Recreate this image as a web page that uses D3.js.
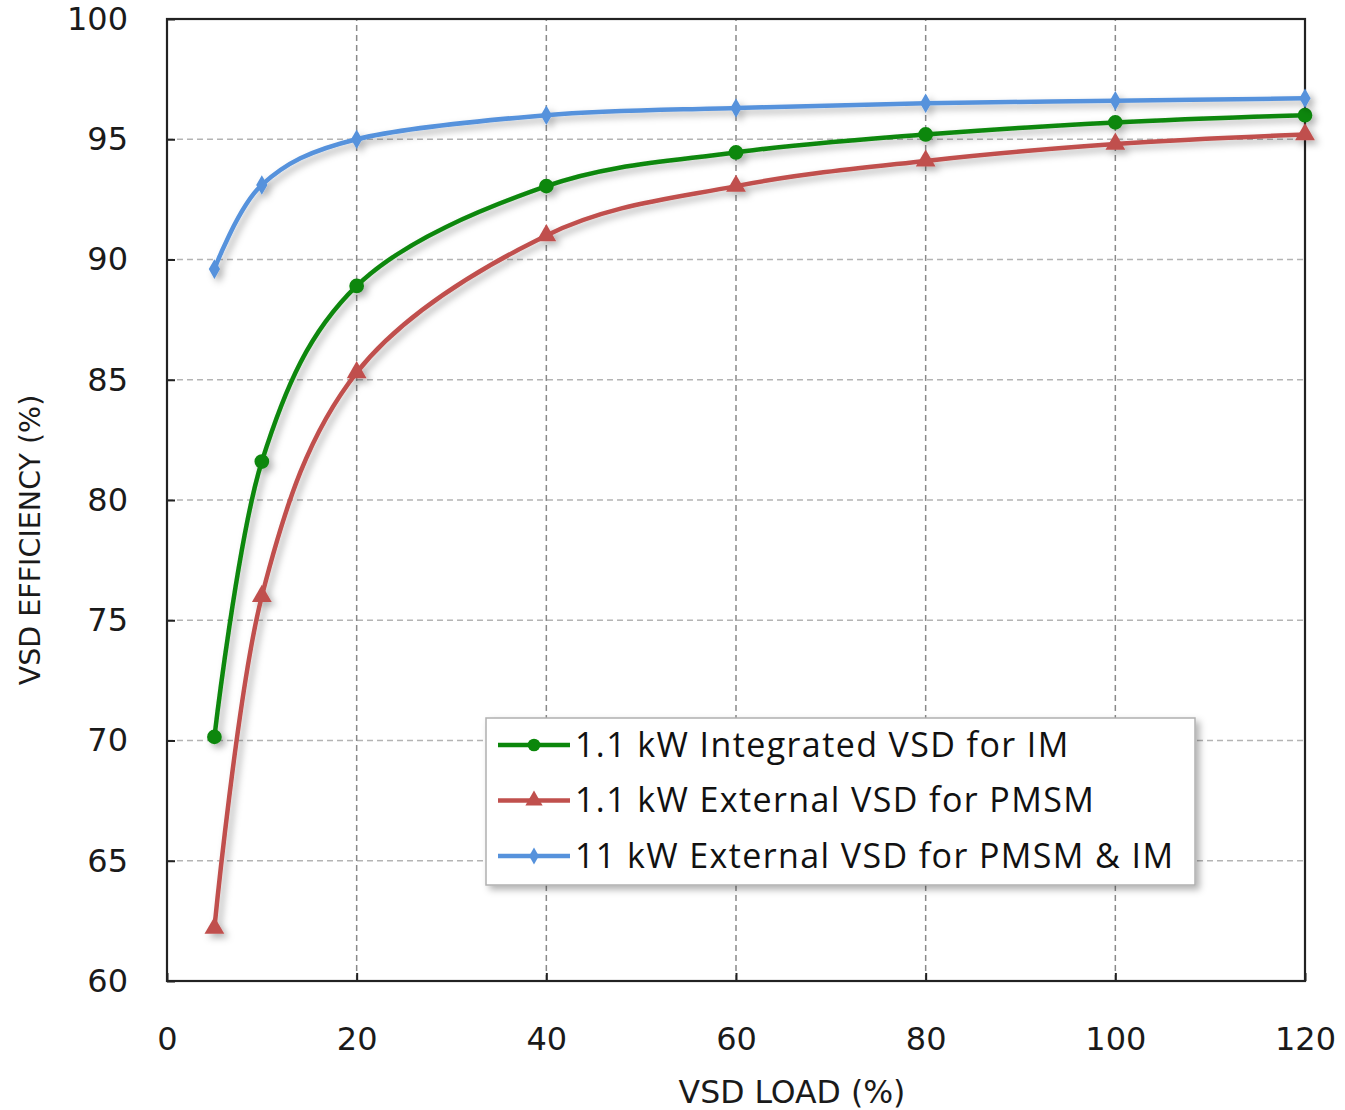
<!DOCTYPE html>
<html>
<head>
<meta charset="utf-8">
<script src="https://cdn.jsdelivr.net/npm/d3@7"></script>
<style>
  body { margin: 0; background: #fff; }
  svg { display: block; }
</style>
</head>
<body>
<div id="chart"></div>
<script>
const loads = [5, 10, 20, 40, 60, 80, 100, 120];
const integratedIM = [70.15, 81.6, 88.9, 93.05, 94.45, 95.2, 95.7, 96.0];
const externalPMSM = [62.2, 76.0, 85.3, 91.0, 93.05, 94.1, 94.8, 95.2];
const external11kW = [89.6, 93.1, 95.0, 96.0, 96.3, 96.5, 96.6, 96.7];
const seriesNames = [
  '1.1 kW Integrated VSD for IM',
  '1.1 kW External VSD for PMSM',
  '11 kW External VSD for PMSM & IM'
];
const xTicks = [0, 20, 40, 60, 80, 100, 120];
const yTicks = [60, 65, 70, 75, 80, 85, 90, 95, 100];

const width = 1345;
const height = 1110;
const margin = { top: 19, right: 40, bottom: 129, left: 167 };

const series = [
  { name: seriesNames[0], values: integratedIM, color: '#0b870b', symbol: d3.symbolCircle, size: 170 },
  { name: seriesNames[1], values: externalPMSM, color: '#c0504d', symbol: d3.symbolTriangle, size: 170 },
  { name: seriesNames[2], values: external11kW, color: '#5692dc', symbol: d3.symbolDiamond, size: 110 }
];

const svg = d3.select('#chart')
  .append('svg')
  .attr('width', width)
  .attr('height', height);

const defs = svg.append('defs');
const shadow = defs.append('filter')
  .attr('id', 'shadow')
  .attr('x', '-20%').attr('y', '-20%')
  .attr('width', '140%').attr('height', '140%');
shadow.append('feDropShadow')
  .attr('dx', 4).attr('dy', 4)
  .attr('stdDeviation', 3.5)
  .attr('flood-color', '#000')
  .attr('flood-opacity', 0.3);

const x = d3.scaleLinear()
  .domain([0, 120])
  .range([margin.left, width - margin.right]);

const y = d3.scaleLinear()
  .domain([60, 100])
  .range([height - margin.bottom, margin.top]);

const plotW = x(120) - x(0);
const plotH = y(60) - y(100);

// grid
svg.append('g')
  .selectAll('line')
  .data(yTicks.slice(1, -1))
  .join('line')
    .attr('x1', x(0)).attr('x2', x(120))
    .attr('y1', d => y(d)).attr('y2', d => y(d))
    .attr('stroke', '#b4b4b4')
    .attr('stroke-width', 1.5)
    .attr('stroke-dasharray', '6,4');

svg.append('g')
  .selectAll('line')
  .data(xTicks.slice(1, -1))
  .join('line')
    .attr('x1', d => x(d)).attr('x2', d => x(d))
    .attr('y1', y(60)).attr('y2', y(100))
    .attr('stroke', '#8a8a8a')
    .attr('stroke-width', 1.5)
    .attr('stroke-dasharray', '6,4');

// axes (inner ticks)
const xAxis = svg.append('g')
  .attr('transform', `translate(0,${y(60)})`)
  .call(d3.axisBottom(x).tickValues(xTicks).tickSizeInner(-8).tickSizeOuter(0).tickPadding(46));

const yAxis = svg.append('g')
  .attr('transform', `translate(${x(0)},0)`)
  .call(d3.axisLeft(y).tickValues(yTicks).tickSizeInner(-8).tickSizeOuter(0).tickPadding(39));

[xAxis, yAxis].forEach(g => {
  g.select('.domain').remove();
  g.selectAll('.tick line').attr('stroke', '#222').attr('stroke-width', 2);
  g.selectAll('.tick text')
    .attr('fill', '#1a1a1a')
    .attr('font-family', 'DejaVu Sans, Verdana, sans-serif')
    .attr('font-size', 32);
});

// frame
svg.append('rect')
  .attr('x', x(0)).attr('y', y(100))
  .attr('width', plotW).attr('height', plotH)
  .attr('fill', 'none')
  .attr('stroke', '#222')
  .attr('stroke-width', 2.2);

// axis titles
svg.append('text')
  .attr('x', 792)
  .attr('y', 1103)
  .attr('text-anchor', 'middle')
  .attr('font-family', 'DejaVu Sans, Verdana, sans-serif')
  .attr('font-size', 31.5)
  .attr('fill', '#1a1a1a')
  .text('VSD LOAD (%)');

svg.append('text')
  .attr('transform', `translate(40,${540}) rotate(-90)`)
  .attr('text-anchor', 'middle')
  .attr('font-family', 'DejaVu Sans, Verdana, sans-serif')
  .attr('font-size', 28.5)
  .attr('fill', '#1a1a1a')
  .text('VSD EFFICIENCY (%)');

// lines
const line = d3.line()
  .x((d, i) => x(loads[i]))
  .y(d => y(d))
  .curve(d3.curveCatmullRom.alpha(0));

const seriesG = svg.append('g')
  .selectAll('g')
  .data(series)
  .join('g')
    .attr('filter', 'url(#shadow)');

seriesG.append('path')
  .attr('d', d => line(d.values))
  .attr('fill', 'none')
  .attr('stroke', d => d.color)
  .attr('stroke-width', 4.5);

seriesG.selectAll('path.marker')
  .data(d => d.values.map((v, i) => ({ v, i, s: d })))
  .join('path')
    .attr('class', 'marker')
    .attr('transform', d => `translate(${x(loads[d.i])},${y(d.v)})`)
    .attr('d', d => d3.symbol(d.s.symbol, d.s.size)())
    .attr('fill', d => d.s.color);

// legend
const legend = svg.append('g')
  .attr('transform', 'translate(486,718)');

legend.append('rect')
  .attr('width', 709)
  .attr('height', 167)
  .attr('fill', '#fff')
  .attr('stroke', '#b0b0b0')
  .attr('stroke-width', 1.5)
  .attr('filter', 'url(#shadow)');

const items = legend.selectAll('g.item')
  .data(series)
  .join('g')
    .attr('class', 'item')
    .attr('transform', (d, i) => `translate(0,${27 + i * 55.5})`);

items.append('line')
  .attr('x1', 12).attr('x2', 84)
  .attr('stroke', d => d.color)
  .attr('stroke-width', 4.5);

items.append('path')
  .attr('transform', 'translate(48,0)')
  .attr('d', d => d3.symbol(d.symbol, d.size * 0.75)())
  .attr('fill', d => d.color);

items.append('text')
  .attr('x', 89)
  .attr('dy', '0.35em')
  .attr('font-family', 'Open Sans, Lato, sans-serif')
  .attr('font-size', 34)
  .attr('letter-spacing', 1.4)
  .attr('fill', '#111')
  .text(d => d.name);
</script>
</body>
</html>
